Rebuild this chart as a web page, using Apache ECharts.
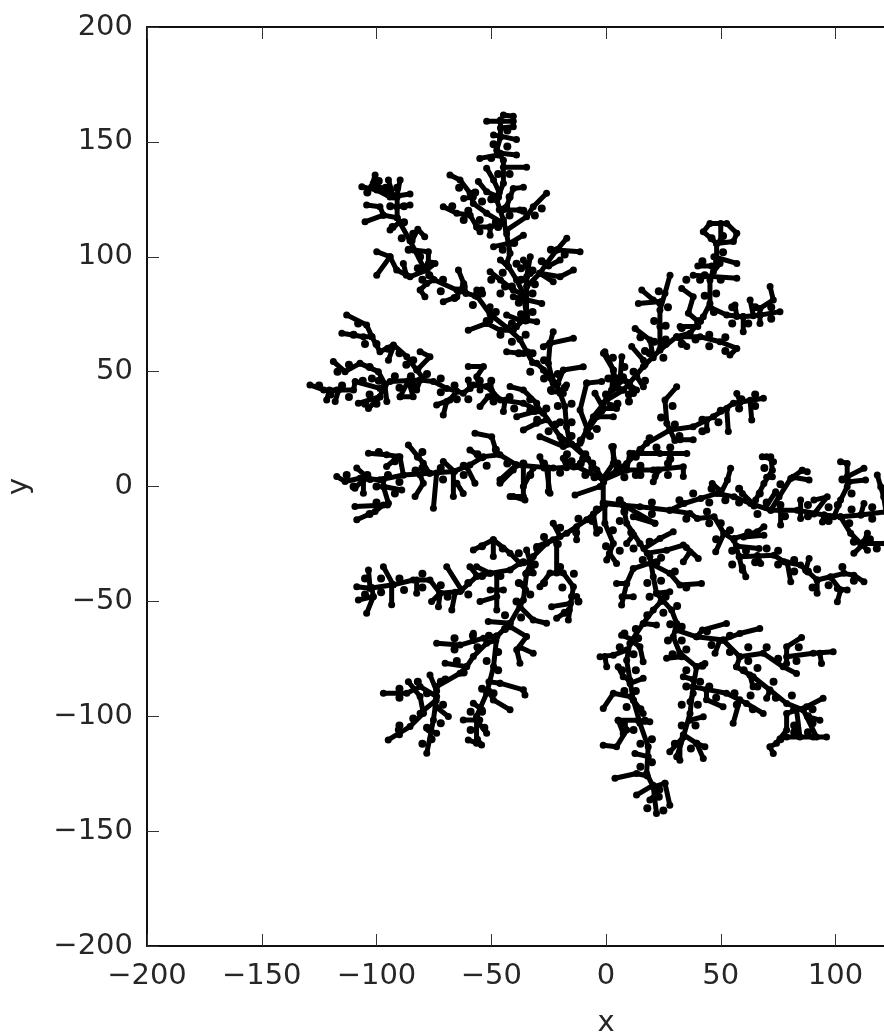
<!DOCTYPE html>
<html><head><meta charset="utf-8">
<style>html,body{margin:0;padding:0;background:#fff;overflow:hidden}#c{width:884px;height:1034px}</style>
<script src="https://cdn.jsdelivr.net/npm/echarts@6/dist/echarts.min.js"></script>
</head><body><div id="c"></div>
<script>
const xTicks=[-200,-150,-100,-50,0,50,100,150,200];
const yTicks=[-200,-150,-100,-50,0,50,100,150,200];
// each polyline is a flat x,y,x,y… list in data units
const northLimb=[
[-46,159.5,-46,152,-47.6,146.4,-44.7,142,-44.7,132,-47.6,124.7,-44.7,116,-43.3,110,-41.8,101.5,-43.3,97,-39,90,-36,84,-34.6,74,-39,69.5],
[-52,159,-46,159,-40.4,159],[-44.7,161.7,-40.4,161.2,-40.4,156.6,-46,156],[-49,153,-46,152.5,-39,151],[-55,142.8,-47,144.3],[-46,145,-39,144.3],[-44.7,139,-34.6,139],
[-52,138.5,-49,133.4,-46.5,128],[-55.6,132.7,-52,128.3,-46.8,126],[-36,130.2,-40.4,129.7,-43.3,121.8,-46.5,120.5],[-45,120.3,-37.5,120.3],
[-68,135.6,-63.6,133.4,-59.2,127.6,-57.8,123.2,-52,118.9,-44.7,114.5],[-62,125.4,-57.8,126],
[-70.9,121.8,-65,118.9,-59.2,118.1,-56.3,113,-50.5,113,-44.7,114.5],[-54.9,110.9,-56.3,113],[-50.5,109.4,-50.5,113],
[-25.9,127.6,-31.7,121.8,-34.6,117.4,-43.3,111.6],[-42.5,105.8,-49,104.4],[-42,105.8,-36,109.4],[-46,98.6,-42.5,95.6],
[-50.5,93.5,-46,89.9,-40.4,85.5,-37,84],[-33,100,-34.6,91.3,-34.6,81.1,-34.6,72.4],[-36,98.6,-33,92.7],
[-17.1,108,-21.5,102.9,-25.9,97.1,-28.8,92.8,-34.6,87],[-21.5,102.9,-11.3,102.2],[-14.2,94.2,-20,91.3,-28.8,92.8],[-28.8,92.8,-23,89.1],[-20,98.6,-25,96],
[-40.4,82.6,-28,79.7],[-34.6,72.4,-30.2,71.7],[-43.3,74.6,-37.5,72.4,-35,72]
];
const northwestLimb=[
[-1.2,2.9,-8,12,-15.7,18.8,-17.2,26,-17.9,34.8,-20,40.6,-23.7,47.8,-30.2,53.6,-32,54,-37.5,64,-43,69,-50.5,75,-56,82.6,-65,85.5,-75,90,-79.6,95.6,-85.4,107,-91,117,-91,126,-101.4,132],
[-60,68,-52,71,-46,68,-40.4,68],[-50.5,78.2,-50.5,72.4],[-43.3,58.6,-36,57.9,-34,58.5],
[-23,67.4,-24.4,62.3,-25.1,53.6,-23.7,47.8],[-14.2,64.5,-24.4,62.3],[-27.3,60.8,-24.4,62.3],[-27.3,50.7,-23,44.9,-18.6,40.5],[-9.9,52.1,-18.6,50.7,-21,44.9],[-20,41,-23.7,41.3],[-20,41,-17.2,44.2],
[-64.3,94.2,-62,88.4,-61,84],[-57,83,-56.3,85.5,-54.2,85.5],[-70.9,80.4,-65,82.6,-63.6,85.5],[-75,90,-78.1,88.4,-81,85.5,-78.9,82.6],
[-99.9,102.2,-94.1,100,-91.2,94.2,-85.4,91.3,-78.1,94.2,-74.5,97.1],[-99.9,92,-94.1,100],[-88.3,97.1,-87,92],
[-84.5,107,-82,112,-79,108.7],[-83.9,102.9,-77.4,102.2,-77.4,97.1],
[-105,115.2,-97,118.1,-91,117],[-104.3,122.5,-98.5,121.8,-97,118.1],[-94.1,111.6,-90,115],[-91.2,121.8,-85.4,122.5],
[-106.4,130.5,-99.9,129,-94.1,126,-85.4,127.3],[-100.6,135.6,-102.1,130.5],[-94.8,133.4,-92.6,126],[-89.7,133.4,-91.2,126]
];
const westUpperLimb=[
[-129,44.2,-123,42,-117.3,42,-110,42,-109.3,45.7,-98.5,42.7,-94.1,45.7,-81,46.4,-75.2,45.7,-69.4,42.7,-62.2,40.6,-57.8,44.2,-52,43.5,-46,37.7,-36,36.2,-27.3,31.9,-20,21.7,-12.8,17.4,-4,7.2,-1.2,2.9],
[-113,74.7,-104.3,70.3,-102,65.2,-98.5,58.7,-92.6,61.6,-86.8,56.5,-82.5,50.7,-79.6,47.1],[-115.1,66.7,-105.7,65.2,-102,65.2],[-81,58.7,-76.7,56.5,-82,51],[-94.8,55,-92.6,61],
[-118.8,54.4,-113.7,50,-107.2,53.6,-99.2,50,-96.3,44.5],[-121.7,37.7,-120.5,42],[-118,37,-116.5,42],[-107.9,36.2,-98.5,39.1,-97,43],[-103.5,34,-98.5,39],[-95.5,37,-96.3,44],
[-89.7,39.1,-86.1,46,-84,39.1,-89.7,39.1],[-82.5,42,-81,46.4],[-73.8,35.5,-68,37.7,-65,41.5],[-70.9,31.1,-69.4,37],
[-60,52.2,-53.4,52.2,-56.3,47.8,-54.9,42],[-60,46.4,-59.2,42.7],[-54.9,34.8,-51.3,39.1,-49,40],[-50.5,44.2,-48.4,39.1],
[-44.7,32.6,-44,37.5],[-41.8,43.5,-36,42,-30.2,36.2,-29,33],[-38.9,30.4,-31,32.6,-29,33],[-36,24.6,-30.2,27.5,-25.9,29],[-28.8,21.7,-18.6,17.4,-15,18.5]
];
const westMiddleLimb=[
[-117.3,4.3,-113.7,2.2,-107.2,3.6,-98.5,2.9,-88.3,5,-76.7,5.8,-66.5,6.5,-59.3,9.4,-53.4,13,-46.2,13.8,-39,9.4,-23,8,-12.8,8.7,-1.2,2.9],
[-103.5,14.5,-95.6,13.8,-89.8,13,-88.3,5],[-95.6,8.7,-90.5,13],[-108.6,8,-102.8,3],[-109.4,-0.8,-105.7,3],[-89,-1.5,-97,0,-97,3],[-97,0,-94.8,-7.3],[-109.4,-8.7,-95.2,-8],[-108.6,-14.5,-100.6,-10.9,-97,-8],[-105.7,-2.9,-105.7,3],
[-86.1,18.1,-79.6,10.1,-77,5.8],[-83.2,-4.4,-79.6,1.4,-81,5],[-75.2,-9.5,-73.8,5.9],[-70.9,10.9,-66,6.5],[-66.5,-4.4,-66.5,6.5],[-62.2,-3,-65,1.4],[-57.1,1.4,-60.7,8.5],
[-57.1,23.2,-49.8,21.7,-47.6,14.5],[-59.3,15.9,-54,12.5],[-46.2,2.9,-39,9.4],[-41.8,-4.4,-36,-4.4,-36,9],[-28.8,13,-27,8],[-24.4,-2.9,-25.9,8],[-17.9,11.6,-14,8.5],
[-46.2,1.4,-40.4,7.2,-39,9.4],[-40.4,-4.4,-35.3,-5.9],[-36,0,-31.7,8],[-25.1,-2.2,-25.1,8],[-18.6,12.3,-17.2,8.2],[-13.5,-3.7,-2.6,0,-1,2]
];
const northeastLimb=[
[-11.3,18.8,-8.4,24.6,-5.5,30.4,0.3,37.6,7.6,42,16.3,52.2,23.5,59.4,30.8,65.2,36.6,66.7,42.4,73.9,45.3,79.7,45.3,89.9,48.2,98.6,48.2,105.8],
[48.2,105.8,42.4,110.9,45.3,114.5,52.6,114.5,57,110.2,55.5,106.6,48.2,105.8],[50,114.5,50,107],
[38,92,57,90.6],[47,100,57,97.1],[46.8,93.5,49.7,97.1],[40,96,46,96],
[27.9,92,25.7,84.1,23.5,76.8,23.5,69.6,23.5,59.4],[15.6,85.5,20.6,81.2,23.5,79.7],[14.1,79.7,24,80.5],
[33,86.2,38,82.6,35.9,75.4,40,72],
[45.3,78,52.6,74.6,59.8,73.9,67.1,74.6,75.8,76.1],[71.5,87,72.9,81.2,67.1,77.5,67,74.6],[62.8,81.2,64.2,74.3],[56.2,79,57,74],[59.8,67.4,59.8,74],[67.1,71,67.1,74.6],
[32.3,69.6,40,69.6,40,71],[30.8,65.2,41,65.2,49.7,63,57,60.1,54,57.2],[35.2,60.9,31.5,64.8],
[12.7,68.8,19.2,63.8,20.6,56],[11.2,60.9,16.3,55,17,53],[-1.1,58,3.2,50.7,4.7,43.4,7.6,42],[6.9,56.5,6.1,46],[16.3,43.4,13.4,47.8],[7.6,47.8,10,44,12,40.5],
[-0.5,58.7,3.2,50.7,2.5,42,-1.2,36.2,-1.2,34],[13.3,42,7.5,46.4,2.5,42],[-8.4,45,-11.3,33.3,-8,24.6],[-1.9,45.7,-8.4,45],[-4.8,40.6,-1.2,34,-7,26],[4.6,34,-1.2,34],[3.2,30.4,-4,30.4]
];
const eastNorthLimb=[
[-1.2,2.9,-1.2,-8.7],[-1.2,2.9,9,10,17.7,18.8,27.9,24.6,38,26,46.8,30.4,55.5,36.2,68.6,38.4],[30.8,43.4,25.7,37.6,26.5,27.5,27.9,24.6],
[57,40.5,58.5,36.7],[63.5,28.9,62.8,37.5],[53.3,23.9,52.6,34],[43.9,24.6,43.9,29],[32.3,20.3,38,20.3],[30,20,27.9,24.6],
[12,14.4,23.5,14.4,35.2,14.4],[2.5,17.3,4.7,7],[-1.2,2.9,9,7.2,20.6,7.2,33.7,8.6,33.7,4.3],[21.4,4.3,22,7.2],[3.2,17.4,3.2,10.1,-1,4],
[10.4,14.5,9,7.2],[20.6,2.1,23,7.2]
];
const eastLimb=[
[-1.2,-7.4,14.8,-8.8,27.8,-10.3,34,-7.4,41.3,-5.2,48.5,-3,55.8,-4.5,63,-7.4,71.8,-10.3,83.4,-10.3,95,-12.4,102.2,-13.2,111,-12.4,122,-11],
[54.3,7.9,52.9,2.8,50,-3],[46.3,1.3,50,-2],[68.1,13,71.8,13,72.5,7.1,68.8,1.3,65.2,-5.9,64.5,-8.5],[70,13,73,10.8],[59.4,-3,64,-7.5],[72.5,4.2,70,4],
[85.5,7.1,80.5,3.5,75.4,-4.5,71.8,-10.3],[88.5,2.8,81.5,4],[85.5,7.1,87.7,6.4],[73.9,-2.3,69.6,-9],
[102.2,10.8,105.1,10,105.1,-0.1,102.2,-5.9,99.3,-13.2],[112.4,7.9,105.1,4.2],[113.1,2.8,105.9,2.1],[118.2,5,119.7,-0.1,121,-4.5,122,-11],
[76.1,-10.5,76.1,-16.8],[84.8,-5.9,84.8,-13.9],[90.6,-5.9,96.4,-4.5,90.6,-12],[94.3,-15.4,95,-12.4],[112.4,-7.4,111,-12.4],
[102.2,-13.2,106.6,-20.4,111,-24.8,122,-24.8],[108,-29.1,112.4,-24.8],[113.9,-20.4,112.4,-24],[113.9,-27.7,111,-24.8]
];
const eastSouthLimb=[
[27.8,-10.3,36.6,-11.7,39.8,-13.9,47.1,-13.2,51.4,-20.4,55.8,-23.3,58,-30.6,59.4,-36.4],[68.8,-17.5,65.9,-19.7,55.8,-22.6],[68.8,-21.2,60,-22],[47.8,-28.4,51.4,-20.4],[66.7,-27,57,-26],[60.9,-39.3,59.4,-35],
[58.4,-30.6,73.2,-29.9,77.6,-32.8,84.8,-34.2,92,-40.7,97.9,-39.3,103.7,-37.8,108,-38.6,112.4,-41.5],[88.5,-31.3,87,-36.4],[80.5,-41.5,79,-33.2],[92,-46.5,92,-40.7],[100.8,-50.2,102.2,-45.1,97.9,-39.5],[105.1,-45.1,100.8,-44.4],[67.4,-33.5,66,-30]
];
const southeastLimb=[
[-0.5,-8,-0.5,-16,3.2,-24.8,0.3,-32],[4.6,-33.5,1.5,-29],
[-1.2,-7,7.5,-8,9,-16,14.8,-24.8,19.1,-30.6,20.6,-39.3,22,-46.5,28.6,-53.8,30.8,-59.6,29.3,-65.4,32.2,-72.6,39.5,-78.5,38,-87.2,36.6,-98.8,33.7,-109,30.8,-117.6],
[9,-24.8,12,-21],[29.3,-19.7,23.5,-22.6,16.5,-27],[33.7,-25.5,26.4,-27.7,18,-29],[40.2,-31.3,35,-26.5],[33.7,-32.7,36.6,-28.5],
[11.9,-13.2,21.3,-16],[7.5,-8,21.3,-16],[19.5,-33.5,27.8,-37.8,32.2,-42.9,41.6,-42.2],[20,-33,11.9,-35.7,9,-42.2,4.6,-42.2],[6.8,-51.6,9,-42.2],[11.9,-48,7,-48],[22,-46.5,27.8,-45.8],
[30.8,-62.5,39.5,-65.4,51,-66.8,58.3,-74.1,68.5,-72.6,77.2,-78.5,83,-81.4],[39.5,-65.4,42,-62.5,52.5,-59.6],[51,-66.8,58.3,-64,67,-61.8],[47.5,-72.6,49.6,-67],
[78.7,-77,78.7,-69.8,85.2,-65.7],[78.7,-74.1,90.3,-72.6,99,-71.9],[93.9,-77,93.2,-72.6],
[56.9,-78.5,64.1,-82.8,71.4,-88.6,78.7,-94.4,86,-97.3,91.7,-109,96.1,-109],[58.3,-74,56.9,-78.5],[64.1,-87.2,62.7,-82],[70,-92.2,71.4,-88.6],
[94.6,-92.2,87.4,-95.9,78.7,-98.8,78.7,-106,74.3,-111.8,71.4,-113.3,72.9,-116.2],[78.7,-109,90.3,-109],[93.2,-101.7,88,-100.2],[84.5,-109,83,-97],
[38,-87.2,52.5,-90,61.2,-94.4,68.5,-98.8],[43.8,-88.5,43.8,-92.8,51,-95.9],[55.4,-103.1,58.3,-92.8],[33.7,-82.8,38,-84],[36.6,-93.7,38,-90],[42.4,-100.2,36.6,-101.7],
[27.8,-115.5,33.7,-109],[32.2,-119.1,32.2,-112],[42.4,-118.4,39.5,-111.8,33.7,-108],[43.1,-113.3,39.5,-111.8],[26.4,-74.8,33,-74.1],[43.1,-77,39.5,-78.5]
];
const southLimb=[
[24,-50,20.6,-53.8,16.2,-59.6,10.4,-68.3,9,-75.6,10.4,-84.3,11.9,-93,14.8,-103.1,18.4,-113.3,17.7,-124.9,20.6,-130.7,22,-142.3],
[-2.6,-74.1,3.2,-73.4,9,-71.2],[0.3,-78.5,-0.5,-74],[6.8,-64.7,11.9,-66.8],[16.2,-76.3,14.8,-69.8,11,-67],[22,-60.3,16.5,-59.6],[5.3,-78.5,7.5,-82.8,10,-84],[16.2,-83.5,10.5,-85.7],
[-1.2,-96.6,3.2,-90,11,-91.5],[12,-93,16.2,-98.8],[19.1,-102.4,14.8,-102.4],[5.3,-101.7,14,-101.7],[7.5,-107.5,5.3,-101.7],[-1.2,-112.6,4.6,-113.3,9,-106,8,-103],
[12.6,-116.2,18.4,-117.6],[3.9,-127,13.3,-124.9,18,-126],[13.3,-134.3,20.6,-130],[25.7,-129.2,20.6,-130.7],[19.1,-136.5,23.5,-132,21,-131],[27.8,-138.7,25.7,-129.2]
];
const southwestLimb=[
[-1.2,-8.7,-8.4,-14.5,-17.1,-20.3,-25.9,-24.7,-31.7,-30.5,-34.6,-37.7,-36,-49.4,-41.8,-59.5,-47.6,-65.3,-49,-78.4,-52,-90,-56.4,-100.1,-56.4,-111.8],
[-23,-16,-20,-21.8],[-12.8,-23.2,-12.8,-17.5],[-4.1,-20.3,-5.5,-12],[-30.2,-26.1,-23,-23.2],
[-57.8,-27.6,-49.1,-23.2,-41.8,-29,-37.5,-33.4,-33,-33],[-37.5,-33.4,-41.8,-36.3,-50.5,-37.8,-56.4,-34.9],[-49.1,-23.2,-49.1,-30.5],
[-108.6,-43.6,-102.8,-44.3,-92.7,-42.8,-84,-40.7,-76.7,-40.7,-72.3,-46.5,-63.6,-45.7,-56.4,-39.2,-50.5,-37.8],
[-103.5,-36.3,-102.8,-44.3],[-107.9,-49.4,-101.4,-47.9,-102,-44],[-104.3,-55.2,-101.4,-48],[-97,-34.9,-92.7,-42.8],[-93.4,-51.5,-93.4,-42.8],[-82.5,-46.5,-82.5,-40.7],[-76,-50.1,-72.3,-46.5,-73,-52.3],[-67.2,-53.7,-65.7,-46],[-69.4,-34.9,-63,-45],[-59.3,-34.9,-56,-39],
[-47.6,-38,-47.6,-53.7],[-54.9,-50.1,-47.6,-47.9],[-50.5,-45,-44.7,-45],[-37.5,-42.1,-35,-45],[-34.6,-27.6,-31.7,-37.7,-35,-38],
[-28.8,-43.6,-24.4,-37.7,-18.6,-37.7,-14.2,-43.6,-16.4,-58.1],[-21.5,-25,-21.5,-37.7],[-12.8,-47.9,-15,-47.9],[-23.7,-52.3,-15.5,-50.9],[-21.5,-57.3,-16,-53.7],
[-37.5,-52.3,-31.7,-58.1,-25.9,-59.5],[-51.3,-58.8,-41.8,-59.5],[-41.8,-61,-34.6,-65.3,-38.9,-71.1,-37.5,-76.9],[-31.7,-72.6,-37.5,-70],
[-73.8,-68.2,-63.6,-69,-53.4,-66,-47.6,-65],[-57.8,-63.9,-57.8,-67],[-70.1,-76.9,-60.7,-78.4,-57.8,-74,-52,-68.2,-48,-67],
[-97,-90,-86.8,-90,-81,-87.1,-73.8,-91.4,-75.2,-101.6,-78.1,-116.1],[-73.8,-87.1,-63.6,-81.3,-60.7,-78.4],[-76.7,-82,-73.8,-89],[-81,-98.7,-74,-93],[-94.9,-110.3,-85.4,-104.5,-79.6,-98.7],[-90.5,-105.9,-90,-108],[-68.7,-100.1,-74,-96],[-73.8,-107.4,-77,-106],[-86.1,-85,-81,-91.4,-79.6,-98.7],
[-46.2,-85.6,-36,-88.5,-35.3,-90.7],[-51,-85,-46.2,-85.6],[-41.8,-97.2,-49.1,-92.9,-51,-89],[-57.8,-94.3,-54,-97.2],[-62.2,-101.6,-55,-101.6],[-52,-107.4,-56.4,-101.6],[-60,-110.3,-54.2,-112.5,-56,-110]
];
const limbs=[northLimb,northwestLimb,westUpperLimb,westMiddleLimb,northeastLimb,eastNorthLimb,eastLimb,eastSouthLimb,southeastLimb,southLimb,southwestLimb];
// small side particles along the stems
const bumpsNorthwest=[-6,10,-10,12,-11,20,-19,20,-15,28,-20,28,-15,36,-21,35,-18,43,-24,42,-21,49,-27,47,-27,55,-33,50,-32,58,-38,58,-35,66,-41,63,-41,71,-46,66,-48,76,-52,72,-54,84,-58,79,-62,87,-66,82,-71,90,-72,85,-77,92,-80,90,-76,97,-82,95,-81,100,-86,103,-84,110,-89,108,-88,115,-93,113,-88,122,-94,122,-96,130,-99,133,-104,128,-91,130];
const bumpsNorth=[-43,155,-49,149,-43,148,-50,143,-42,136,-47,136,-42,126,-50,125,-42,118,-47,113,-40,106,-45,103,-39,97,-45,93,-37,90,-41,87,-32,84,-38,80,-32,76,-37,75,-64,130,-57,128,-54,124,-60,120,-55,116,-48,115,-67,122,-62,116,-31,118,-36,120,-28,121,-24,103,-28,98,-18,101,-32,94,-37,95,-31,88,-44,87,-50,90,-46,84];
const bumpsWestUpper=[-125,44,-120,40,-115,44,-112,39,-106,46,-103,40,-99,46,-92,48,-90,43,-85,48,-84,44,-78,49,-72,47,-72,41,-66,44,-65,38,-60,38,-55,46,-50,46,-49,37,-42,39,-40,34,-33,38,-33,33,-26,34,-30,29,-22,27,-25,24,-15,22,-17,14,-9,14,-11,10,-5,4,-108,71,-110,66,-100,62,-105,62,-95,60,-90,58,-87,53,-84,55,-112,53,-102,47,-103,52,-117,50,-100,36,-105,36];
const bumpsWestMiddle=[-113,5,-110,0,-104,5,-100,0,-95,5,-90,2,-83,7,-80,8,-72,8,-71,3,-62,9,-62,5,-56,14,-52,9,-48,16,-43,10,-36,10,-33,5,-27,10,-20,6,-15,11,-9,5,-6,8,-99,15,-92,11,-100,-7,-103,-12,-92,-3,-82,13,-80,15];
const bumpsNortheast=[-7,22,-4,25,-2,33,2,35,4,43,10,40,12,50,17,46,19,58,25,56,26,64,33,62,33,69,39,64,41,72,47,76,43,83,48,84,43,92,50,90,42,98,51,102,46,108,51,109,35,90,41,90,23,85,27,78,21,72,26,70,21,63,26,62,55,78,55,71,62,71,65,78,72,78,72,73,45,66,45,61,52,65,52,59,15,65,17,59,3,56,1,47,8,52,10,45,5,36,10,37,0,40,5,47];
const bumpsEastNorth=[5,10,8,4,13,13,13,5,19,21,22,17,30,27,32,22,42,29,42,24,50,33,49,28,59,38,58,34,65,40,65,35,24,30,29,35,15,16,28,17,28,12,15,9,15,5,27,10,27,5];
const bumpsEast=[6,-6,8,-11,20,-7,20,-12,32,-6,38,-3,45,-7,46,-1,52,-6,58,-7,58,-1,66,-12,70,-7,76,-8,78,-13,88,-8,88,-13,97,-9,97,-15,107,-10,106,-16,116,-9,116,-14,69,8,67,-3,76,1,103,3,107,-3,101,-8,108,-24,115,-23,118,-27];
const bumpsEastSouth=[35,-14,44,-11,45,-16,50,-16,54,-19,48,-23,62,-20,55,-28,61,-28,55,-34,65,-33,70,-27,75,-28,75,-34,82,-32,82,-37,88,-37,92,-36,90,-44,97,-43,103,-35,108,-41];
const bumpsSoutheast=[-3,-19,3,-19,0,-26,6,-28,6,-15,11,-20,12,-27,19,-24,16,-32,22,-33,18,-42,24,-41,19,-48,26,-48,25,-55,31,-52,28,-60,33,-61,27,-67,33,-67,29,-73,35,-71,35,-80,42,-78,35,-87,41,-85,33,-95,40,-95,33,-104,39,-104,30,-112,37,-114,24,-31,30,-37,35,-44,44,-63,46,-69,54,-65,54,-72,62,-70,62,-76,70,-70,75,-75,83,-76,84,-70,60,-80,66,-79,66,-87,73,-85,74,-92,81,-91,82,-97,88,-100,90,-103,82,-104,45,-87,48,-92,56,-90,57,-95,63,-91,64,-97,76,-110,82,-107,88,-107,90,-97];
const bumpsSouth=[18,-56,13,-62,14,-66,8,-64,12,-73,6,-70,13,-80,7,-80,13,-89,8,-89,15,-97,9,-96,17,-102,12,-106,20,-110,15,-112,20,-120,15,-122,23,-135,18,-140,25,-141];
const bumpsSouthwest=[-4,-10,-6,-15,-12,-14,-13,-20,-20,-18,-21,-25,-27,-22,-30,-27,-36,-33,-31,-34,-38,-42,-33,-47,-39,-50,-37,-57,-44,-56,-44,-62,-51,-65,-47,-72,-52,-76,-47,-80,-54,-88,-49,-90,-59,-98,-54,-98,-59,-106,-53,-105,-45,-27,-54,-26,-38,-29,-46,-39,-54,-39,-105,-40,-105,-47,-98,-40,-98,-46,-90,-40,-88,-45,-80,-38,-80,-44,-72,-43,-69,-48,-60,-47,-60,-42,-27,-42,-20,-35,-14,-38,-12,-50,-19,-44,-18,-55,-66,-66,-66,-71,-58,-65,-56,-70,-65,-76,-62,-81,-70,-84,-90,-88,-90,-92,-82,-85,-72,-85,-78,-90,-71,-95,-78,-105,-72,-103,-76,-110,-80,-112,-90,-104,-84,-101];
const bumps=[bumpsNorthwest,bumpsNorth,bumpsWestUpper,bumpsWestMiddle,bumpsNortheast,bumpsEastNorth,bumpsEast,bumpsEastSouth,bumpsSoutheast,bumpsSouth,bumpsSouthwest];

const INK='#000';
const TXT='#262626';
const FONT='"DejaVu Sans"';
function toPairs(flat){const r=[];for(let i=0;i<flat.length;i+=2)r.push([flat[i],flat[i+1]]);return r;}
const series=[];
limbs.forEach(l=>l.forEach(p=>series.push({type:'line',data:toPairs(p),symbol:'circle',symbolSize:7,showSymbol:true,showAllSymbol:true,itemStyle:{color:INK,opacity:1},silent:true,animation:false,clip:true,
  lineStyle:{color:INK,width:5,cap:'round',join:'round'}})));
bumps.forEach(b=>series.push({type:'scatter',data:toPairs(b),symbol:'circle',symbolSize:8,itemStyle:{color:INK,opacity:1},silent:true,animation:false,clip:true}));
const fmt=v=>String(v).replace('-','\u2212');
const common={min:-200,max:200,interval:50,splitLine:{show:false},
  axisLine:{show:true,onZero:false,lineStyle:{color:'#111',width:2}},
  axisTick:{show:true,inside:true,length:12,lineStyle:{color:'#333',width:1}}};
const lab={show:true,color:TXT,fontFamily:FONT,fontSize:29,formatter:fmt};
const chart=echarts.init(document.getElementById('c'),null,{renderer:'canvas'});
chart.setOption({animation:false,backgroundColor:'#fff',
 grid:{left:147,top:27,width:918,height:919,containLabel:false,outerBoundsMode:'none'},
 xAxis:[
  Object.assign({},common,{type:'value',position:'bottom',name:'x',nameLocation:'middle',nameGap:63,
    nameTextStyle:{color:TXT,fontFamily:FONT,fontSize:29},axisLabel:Object.assign({},lab,{margin:16,hideOverlap:false,showMinLabel:true,showMaxLabel:true})}),
  Object.assign({},common,{type:'value',position:'top',axisLabel:{show:false}})
 ],
 yAxis:[
  Object.assign({},common,{type:'value',position:'left',name:'y',nameLocation:'middle',nameGap:113,
    nameTextStyle:{color:TXT,fontFamily:FONT,fontSize:29},axisLabel:Object.assign({},lab,{margin:14,showMinLabel:true,showMaxLabel:true})})
 ],
 series:series});
</script></body></html>
